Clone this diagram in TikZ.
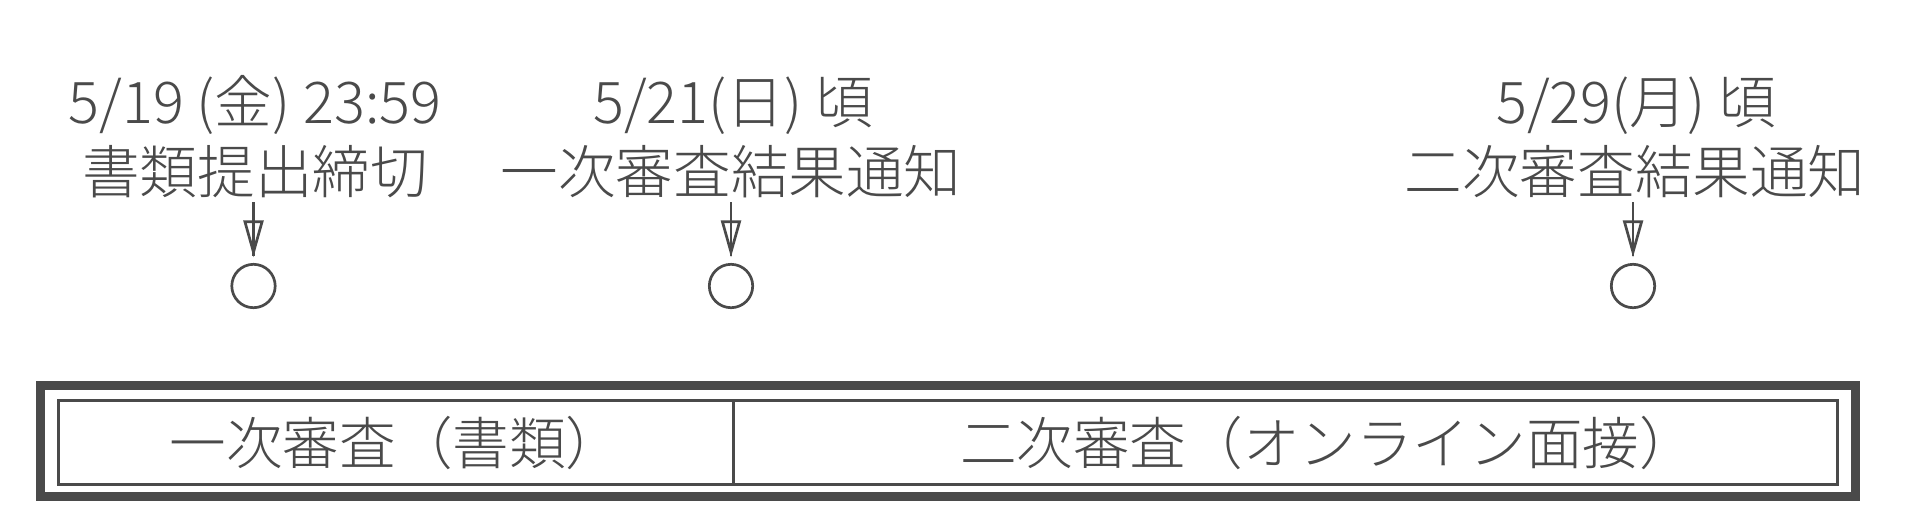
\documentclass[tikz,border=0pt]{standalone}
\usepackage{fontspec}
\usetikzlibrary{arrows.meta,calc}
\IfFontExistsTF{Noto Sans CJK JP Light}{\setmainfont{Noto Sans CJK JP Light}}{\IfFontExistsTF{Noto Sans CJK JP DemiLight}{\setmainfont{Noto Sans CJK JP DemiLight}}{\setmainfont{Noto Sans CJK JP}}}
\definecolor{ink}{HTML}{4A4A4A}
\begin{document}
\begin{tikzpicture}[x=0.5pt,y=-0.5pt,
  txt/.style={text=ink, font=\fontsize{28.8pt}{35pt}\selectfont, inner sep=0pt},
  lbl/.style={txt, anchor=base},
  boxtxt/.style={txt, font=\fontsize{28.3pt}{34pt}\selectfont},
  dot/.style={draw=ink, line width=1.35pt, circle, minimum size=21.7pt, inner sep=0pt, outer sep=0pt},
  shaft/.style={draw=ink, line width=1.35pt},
  arr/.style={draw=ink, line width=1.35pt, -{Triangle[open, length=18.5pt, width=10pt]}, shorten >=3.5pt},
  frameout/.style={draw=ink, line width=4.5pt},
  framein/.style={draw=ink, line width=1.75pt},
  divider/.style={draw=ink, line width=1.5pt}]
\useasboundingbox (0,0) rectangle (1920,525);

% labels
\node[lbl] (d1) at (255,123) {5/19 (金) 23:59};
\node[lbl] (t1) at (255,193) {書類提出締切};
\node[lbl] (d2) at (733,123) {5/21(日) 頃};
\node[lbl] (t2) at (731,193) {一次審査結果通知};
\node[lbl] (d3) at (1636,123) {5/29(月) 頃};
\node[lbl] (t3) at (1635,193) {二次審査結果通知};

% circles
\node[dot] (c1) at (253.5,286) {};
\node[dot] (c2) at (731,286) {};
\node[dot] (c3) at (1633,286) {};

% arrows
\coordinate (s1) at (253.5,202);
\coordinate (s2) at (731,202);
\coordinate (s3) at (1633,202);
\foreach \i in {1,2,3}{
  \draw[arr] (s\i) -- (c\i);
  \draw[shaft] (s\i) -- ($(c\i.north)+(0,-8)$);
}

% frame
\draw[frameout] (40.5,385.5) rectangle (1855.5,496.5);
\draw[framein] (58.5,400.5) rectangle (1837.5,484.5);
\coordinate (dt) at (733.5,400.5);
\coordinate (db) at (733.5,484.5);
\draw[divider] (dt) -- (db);

\node[boxtxt] (b1) at (396,442.5) {一次審査（書類）};
\node[boxtxt] (b2) at (1328,442.5) {二次審査（オンライン面接）};
\end{tikzpicture}
\end{document}
